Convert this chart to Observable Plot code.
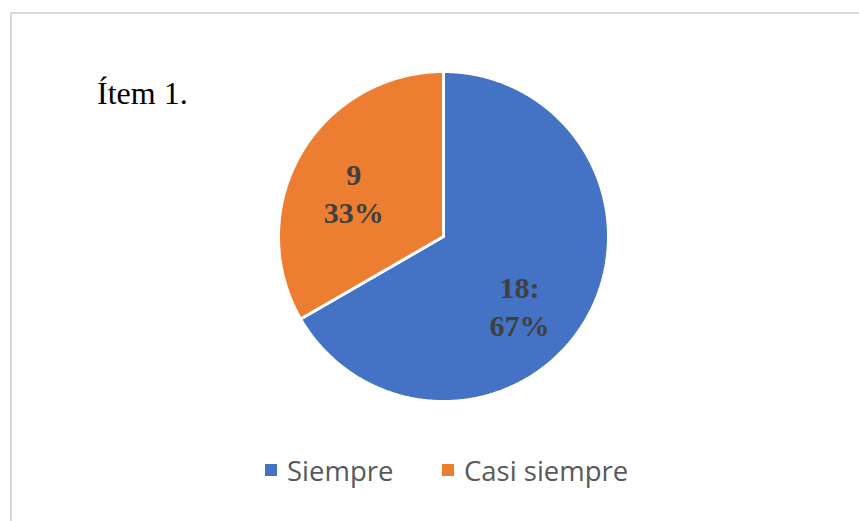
<!DOCTYPE html>
<html>
<head>
<meta charset="utf-8">
<script src="https://cdn.jsdelivr.net/npm/d3@7"></script>
<script src="https://cdn.jsdelivr.net/npm/@observablehq/plot@0.6"></script>
<style>
  html, body { margin: 0; padding: 0; background: #fff; }
  #wrap { position: relative; width: 859px; height: 521px; overflow: hidden; }
  #frame { position: absolute; left: 10px; top: 12px; width: 900px; height: 600px;
           border-left: 2px solid #d9d9d9; border-top: 2px solid #d9d9d9; }
  #title { position: absolute; left: 97px; top: 75px; font-family: "Liberation Serif", "Times New Roman", serif;
           font-size: 32px; color: #000; white-space: nowrap; }
  #legend { position: absolute; top: 452px; left: 0; width: 859px; height: 36px;
            font-family: "Open Sans", sans-serif; font-size: 27.5px; color: #595959; }
  .item { position: absolute; top: 0; display: flex; align-items: center; height: 36px; white-space: nowrap; }
  .sw { width: 12px; height: 12px; margin-right: 10px; }
  #chart { position: absolute; left: 0; top: 0; }
</style>
</head>
<body>
<div id="wrap">
  <div id="frame"></div>
  <div id="chart"></div>
  <div id="title"></div>
  <div id="legend"></div>
</div>
<script>
// ---- data ----
const title = "Ítem 1.";
const categories = ["Siempre", "Casi siempre"];
const counts = [18, 9];
const percents = ["67%", "33%"];
const labelText = ["18:", "9"];
const colors = ["#4472C4", "#ED7D31"];

// ---- layout (not data) ----
const cx = 443, cy = 236, R = 165;
const labelRadius = [0.63, 0.6];
const labelAngleShift = [13, -5]; // degrees
const legendX = [265, 442];

// pie angles (clockwise from 12 o'clock)
const pie = d3.pie().sort(null).value(d => d.count)(categories.map((c, i) => ({cat: c, count: counts[i]})));

const slicePts = [];
pie.forEach((p, i) => {
  slicePts.push({cat: categories[i], x: 0, y: 0});
  const n = Math.max(2, Math.ceil((p.endAngle - p.startAngle) / (Math.PI / 360)));
  for (let k = 0; k <= n; k++) {
    const a = p.startAngle + (p.endAngle - p.startAngle) * k / n;
    slicePts.push({cat: categories[i], x: Math.sin(a), y: Math.cos(a)});
  }
  slicePts.push({cat: categories[i], x: 0, y: 0});
});

const labels = pie.map((p, i) => {
  const a = (p.startAngle + p.endAngle) / 2 + labelAngleShift[i] * Math.PI / 180;
  return {cat: categories[i], x: labelRadius[i] * Math.sin(a), y: labelRadius[i] * Math.cos(a),
          text: labelText[i] + "\n" + percents[i]};
});

const plot = Plot.plot({
  width: 859, height: 521,
  margin: 0,
  style: {background: "transparent", overflow: "visible"},
  x: {domain: [-1, 1], range: [cx - R, cx + R], axis: null},
  y: {domain: [-1, 1], range: [cy + R, cy - R], axis: null},
  color: {domain: categories, range: colors},
  marks: [
    Plot.line(slicePts, {x: "x", y: "y", z: "cat", fill: "cat", stroke: "#fff", strokeWidth: 3, strokeLinejoin: "miter", curve: "linear"}),
    Plot.text(labels, {x: "x", y: "y", text: "text", fontFamily: "Liberation Serif, Times New Roman, serif",
      fontWeight: "bold", fontSize: 30, fill: "#404040", lineHeight: 1.27, dy: -3})
  ]
});
document.getElementById("chart").appendChild(plot);
document.getElementById("title").textContent = title;

const legend = document.getElementById("legend");
categories.forEach((c, i) => {
  const it = document.createElement("div");
  it.className = "item";
  it.style.left = legendX[i] + "px";
  const sw = document.createElement("div");
  sw.className = "sw";
  sw.style.background = colors[i];
  const t = document.createElement("span");
  t.textContent = c;
  it.appendChild(sw); it.appendChild(t);
  legend.appendChild(it);
});
</script>
</body>
</html>
